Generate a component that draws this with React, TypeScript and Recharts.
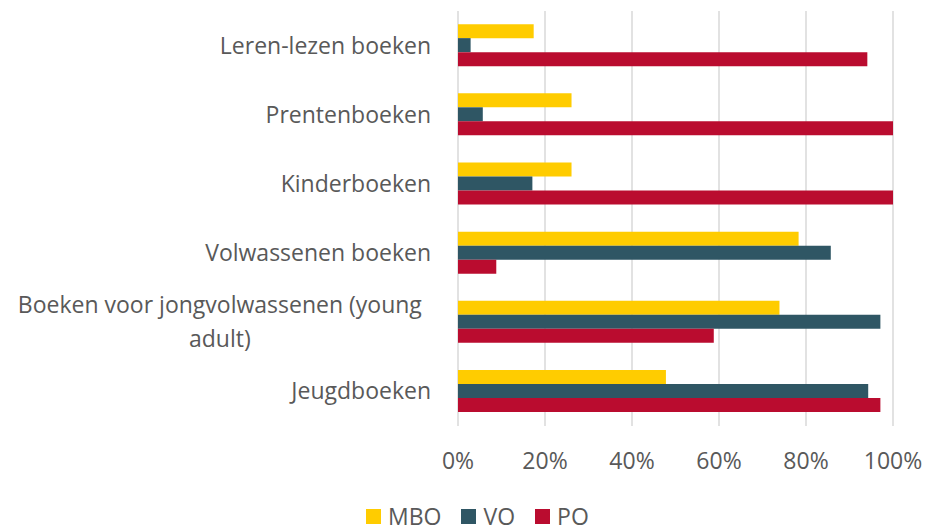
import React from 'react';
import { BarChart, Bar, XAxis, YAxis, CartesianGrid } from 'recharts';

const categories = [
  'Leren-lezen boeken',
  'Prentenboeken',
  'Kinderboeken',
  'Volwassenen boeken',
  'Boeken voor jongvolwassenen (young adult)',
  'Jeugdboeken',
];
const mboValues = [0.174, 0.261, 0.261, 0.783, 0.739, 0.478];
const voValues = [0.029, 0.057, 0.171, 0.857, 0.971, 0.943];
const poValues = [0.941, 1, 1, 0.088, 0.588, 0.971];
const xTicks = [0, 0.2, 0.4, 0.6, 0.8, 1];

const series = [
  { key: 'MBO', color: '#FFCC00' },
  { key: 'VO', color: '#2F5664' },
  { key: 'PO', color: '#BA0C2F' },
];

const data = categories.map((name, i) => ({
  name,
  MBO: mboValues[i],
  VO: voValues[i],
  PO: poValues[i],
}));

const FONT = '"Open Sans", sans-serif';
const TEXT = '#595959';
const FS = 23;

const wrap = (label: string, maxChars: number) => {
  const words = label.split(' ');
  const lines: string[] = [];
  let cur = '';
  words.forEach((w) => {
    const next = cur ? cur + ' ' + w : w;
    if (next.length > maxChars && cur) {
      lines.push(cur);
      cur = w;
    } else {
      cur = next;
    }
  });
  if (cur) lines.push(cur);
  return lines;
};

const CategoryTick = (props: any) => {
  const { x, y, payload } = props;
  const lines = wrap(payload.value, 36);
  if (lines.length === 1) {
    return (
      <text x={x} y={y} dy="0.35em" textAnchor="end" fill={TEXT} fontSize={FS} fontFamily={FONT}>
        {lines[0]}
      </text>
    );
  }
  // multi-line labels are centred on the widest line
  const longest = Math.max(...lines.map((l) => l.length));
  const cx = x - (longest * FS * 0.54) / 2;
  const lh = 34;
  const start = y - ((lines.length - 1) * lh) / 2;
  return (
    <text textAnchor="middle" fill={TEXT} fontSize={FS} fontFamily={FONT}>
      {lines.map((l, i) => (
        <tspan key={i} x={cx} y={start + i * lh} dy="0.35em">
          {l}
        </tspan>
      ))}
    </text>
  );
};

const PercentTick = (props: any) => {
  const { x, y, payload } = props;
  return (
    <text x={x} y={y} dy="0.71em" textAnchor="middle" fill={TEXT} fontSize={FS} fontFamily={FONT}>
      {Math.round(payload.value * 100) + '%'}
    </text>
  );
};

export default function App() {
  return (
    <div style={{ position: 'absolute', left: 0, top: 0, width: 925, height: 530, background: '#fff' }}>
      <BarChart
        width={925}
        height={530}
        data={data}
        layout="vertical"
        barCategoryGap="19%"
        barGap={0}
        margin={{ top: 11, right: 32, left: 0, bottom: 64 }}
      >
        <CartesianGrid horizontal={false} stroke="#D9D9D9" strokeWidth={1.5} />
        <XAxis
          type="number"
          domain={[0, 1]}
          ticks={xTicks}
          axisLine={false}
          tickLine={false}
          tickSize={0}
          tickMargin={27}
          height={40}
          tick={<PercentTick />}
          interval={0}
        />
        <YAxis
          type="category"
          dataKey="name"
          width={458}
          axisLine={false}
          tickLine={false}
          tickSize={0}
          tickMargin={27}
          tick={<CategoryTick />}
          interval={0}
        />
        {series.map((s) => (
          <Bar key={s.key} dataKey={s.key} fill={s.color} isAnimationActive={false} />
        ))}
      </BarChart>
      <div
        style={{
          position: 'absolute',
          left: 366,
          top: 504,
          display: 'flex',
          alignItems: 'center',
          fontFamily: FONT,
          fontSize: FS,
          color: TEXT,
          lineHeight: '24px',
        }}
      >
        {series.map((s) => (
          <div key={s.key} style={{ display: 'flex', alignItems: 'center', marginRight: 20 }}>
            <span style={{ width: 15, height: 15, background: s.color, display: 'inline-block', marginRight: 7 }} />
            <span>{s.key}</span>
          </div>
        ))}
      </div>
    </div>
  );
}
